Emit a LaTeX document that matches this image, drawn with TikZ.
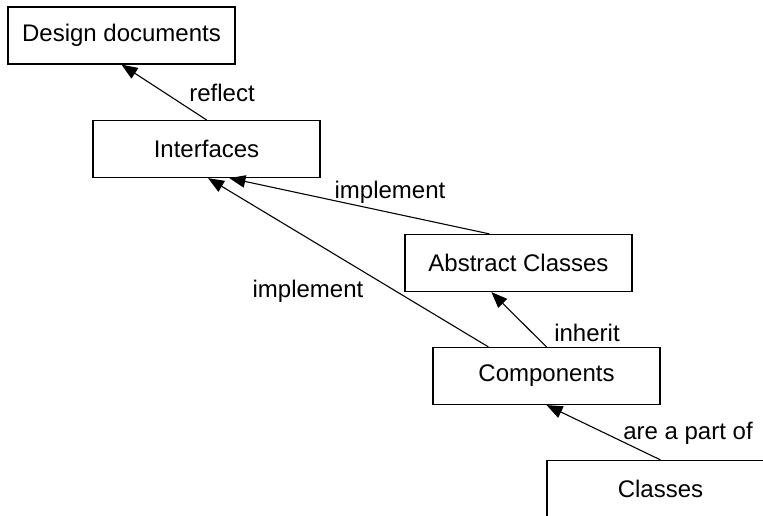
\documentclass[tikz,border=0pt]{standalone}
\usepackage{fontspec}
\setmainfont{Liberation Sans}
\usetikzlibrary{arrows.meta}
\begin{document}
\begin{tikzpicture}[x=1pt,y=-1pt,
  box/.style={draw=black,line width=1.2pt,minimum width=227pt,minimum height=57pt,
    inner sep=0pt,font=\fontsize{24}{28}\selectfont},
  lbl/.style={inner sep=0pt,font=\fontsize{24}{28}\selectfont},
  rel/.style={draw=black,line width=1.1pt,-{Triangle[length=16pt,width=12.5pt]}}]
  \useasboundingbox (0,0) rectangle (763,516);
  % class-hierarchy boxes
  \node[box] (dd)   at (121.5,35.5) {Design documents};
  \node[box] (intf) at (206.5,149)  {Interfaces};
  \node[box] (abs)  at (518.5,263)  {Abstract Classes};
  \node[box] (comp) at (546.5,376)  {Components};
  \node[box] (cls)  at (660.5,489)  {Classes};
  % relations
  \draw[rel] (intf.north) -- (dd.south);
  \draw[rel] ([xshift=85pt]abs.north west) -- ([xshift=137pt]intf.south west);
  \draw[rel] ([xshift=56pt]comp.north west) -- ([xshift=1.5pt]intf.south);
  \draw[rel] (comp.north) -- ([xshift=87pt]abs.south west);
  \draw[rel] (cls.north) -- (comp.south);
  % relation labels
  \node[lbl] (lreflect) at (222,93)  {reflect};
  \node[lbl] (limpl1)   at (390,192) {implement};
  \node[lbl] (limpl2)   at (308,291) {implement};
  \node[lbl] (linh)     at (587,333) {inherit};
  \node[lbl] (lpart)    at (688,433) {are a part of};
\end{tikzpicture}
\end{document}
